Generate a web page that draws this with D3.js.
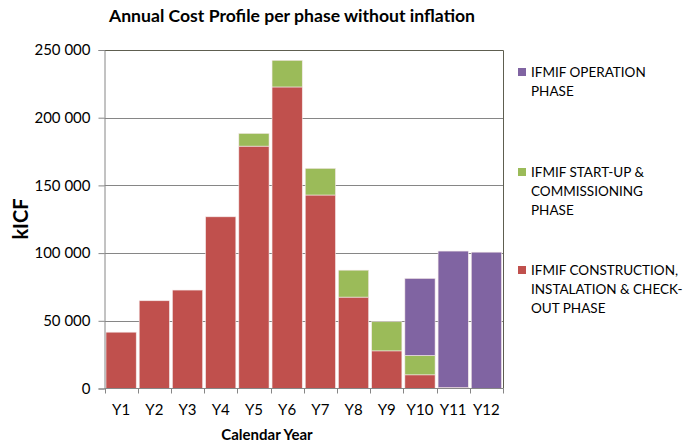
<!DOCTYPE html>
<html>
<head>
<meta charset="utf-8">
<script src="https://cdn.jsdelivr.net/npm/d3@7"></script>
<style>
  body { margin: 0; background: #fff; }
  text { font-family: Lato, "Open Sans", sans-serif; fill: #000; }
</style>
</head>
<body>
<svg id="chart" width="686" height="445"></svg>
<script>
// Data (kICF)
var years = ["Y1", "Y2", "Y3", "Y4", "Y5", "Y6", "Y7", "Y8", "Y9", "Y10", "Y11", "Y12"];
var construction = [41600, 64800, 72700, 126800, 179000, 222700, 142900, 67500, 27800, 10100, 700, 0];
var startup = [0, 0, 0, 0, 9400, 19700, 19700, 19900, 21500, 14300, 0, 0];
var operation = [0, 0, 0, 0, 0, 0, 0, 0, 0, 56900, 100800, 100700];
var yTicks = [0, 50000, 100000, 150000, 200000, 250000];

var seriesKeys = ["construction", "startup", "operation"];
var seriesColors = { construction: "#C0504D", startup: "#9BBB59", operation: "#8064A2" };
var legendItems = [
  { key: "operation", lines: ["IFMIF OPERATION", "PHASE"] },
  { key: "startup", lines: ["IFMIF START-UP &", "COMMISSIONING", "PHASE"] },
  { key: "construction", lines: ["IFMIF CONSTRUCTION,", "INSTALATION & CHECK-", "OUT PHASE"] }
];

var svg = d3.select("#chart");
var plot = { left: 104.5, right: 503, top: 50, bottom: 388.5 };

var rows = years.map(function(y, i) {
  return { year: y, construction: construction[i], startup: startup[i], operation: operation[i] };
});
var stacked = d3.stack().keys(seriesKeys)(rows);

var x = d3.scaleBand().domain(years).range([plot.left, plot.right]).paddingInner(0.09).paddingOuter(0.045);
var y = d3.scaleLinear().domain([0, 250000]).range([plot.bottom, plot.top]);
var fmt = function(v) { return d3.format(",")(v).replace(/,/g, " "); };

// Gridlines
svg.append("g").selectAll("line")
  .data(yTicks.filter(function(t) { return t > 0 && t < 250000; }))
  .enter().append("line")
  .attr("x1", plot.left).attr("x2", plot.right)
  .attr("y1", d => Math.round(y(d)) + 0.5).attr("y2", d => Math.round(y(d)) + 0.5)
  .attr("stroke", "#868686").attr("stroke-width", 1);

// Plot border (top / right)
svg.append("path")
  .attr("d", `M${plot.left},${plot.top + 0.5}H${plot.right + 0.5}V${plot.bottom}`)
  .attr("fill", "none").attr("stroke", "#5e5e50").attr("stroke-width", 1);

// Bars
svg.append("g").selectAll("g")
  .data(stacked).enter().append("g")
  .attr("fill", d => seriesColors[d.key])
  .selectAll("rect")
  .data(d => d.filter(p => p[1] - p[0] > 0))
  .enter().append("rect")
  .attr("x", d => x(d.data.year))
  .attr("width", x.bandwidth())
  .attr("y", d => y(d[1]))
  .attr("height", d => y(d[0]) - y(d[1]))
  .attr("stroke", "#f4e8e8").attr("stroke-width", 0.6);

// Y axis
var yAxis = d3.axisLeft(y).tickValues(yTicks).tickSize(6).tickPadding(8).tickFormat(fmt);
var gy = svg.append("g").attr("transform", `translate(${plot.left},0)`).call(yAxis);
gy.select(".domain").attr("stroke", "#868686");
gy.selectAll(".tick line").attr("stroke", "#868686");
gy.selectAll(".tick text").attr("font-size", 15).attr("font-family", "Lato, sans-serif");

// X axis with ticks at category boundaries
var gx = svg.append("g").attr("transform", `translate(0,${plot.bottom})`);
gx.append("line").attr("x1", plot.left).attr("x2", plot.right + 0.5)
  .attr("stroke", "#868686");
var step = (plot.right - plot.left) / years.length;
gx.selectAll("line.tk").data(d3.range(years.length + 1)).enter().append("line")
  .attr("class", "tk")
  .attr("x1", i => Math.round(plot.left + i * step) + 0.5)
  .attr("x2", i => Math.round(plot.left + i * step) + 0.5)
  .attr("y1", 0).attr("y2", 5).attr("stroke", "#868686");
gx.selectAll("text").data(years).enter().append("text")
  .attr("x", d => x(d) + x.bandwidth() / 2)
  .attr("y", 26)
  .attr("text-anchor", "middle")
  .attr("font-size", 15)
  .text(d => d);

// Titles
svg.append("text").attr("x", 292).attr("y", 22).attr("text-anchor", "middle")
  .attr("font-size", 17.6).attr("font-weight", "bold")
  .text("Annual Cost Profile per phase without inflation");
svg.append("text").attr("x", 267).attr("y", 440).attr("text-anchor", "middle")
  .attr("font-size", 15).attr("font-weight", "bold")
  .text("Calendar Year");
svg.append("text").attr("transform", "translate(28,219) rotate(-90)")
  .attr("text-anchor", "middle")
  .attr("font-size", 20).attr("font-weight", "bold")
  .text("kICF");

// Legend
var legendTop = [72, 172, 270];
var lg = svg.append("g").selectAll("g").data(legendItems).enter().append("g")
  .attr("transform", (d, i) => `translate(518,${legendTop[i]})`);
lg.append("rect").attr("x", 0).attr("y", -4).attr("width", 8).attr("height", 8)
  .attr("fill", d => seriesColors[d.key]);
lg.each(function(d) {
  d3.select(this).selectAll("text").data(d.lines).enter().append("text")
    .attr("x", 13).attr("y", (l, i) => i * 19 + 5)
    .attr("font-size", 13.5)
    .text(l => l);
});
</script>
</body>
</html>
